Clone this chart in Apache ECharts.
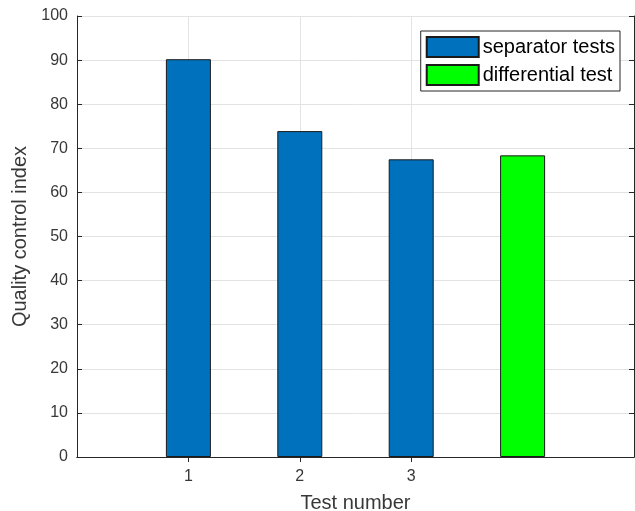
<!DOCTYPE html>
<html>
<head>
<meta charset="utf-8">
<script src="https://cdn.jsdelivr.net/npm/echarts@6/dist/echarts.min.js"></script>
<style>html,body{margin:0;padding:0;background:#fff}#c{width:635px;height:511px}</style>
</head>
<body>
<div id="c"></div>
<script>
// Data
const xPositions = ['0', '1', '2', '3', '4', '5'];
const xTickLabels = ['', '1', '2', '3', '', ''];
const separatorValues = [null, 90.2, 73.9, 67.5, null, null];
const differentialValues = [null, null, null, null, 68.4, null];
const yTicks = [0, 10, 20, 30, 40, 50, 60, 70, 80, 90, 100];
const seriesNames = ['separator tests', 'differential test'];

const FONT = '"Liberation Sans", Arial, sans-serif';
const TXT = '#383838';
const AX = '#262626';
const tickIdx = (i) => i >= 1 && i <= 3;

const chart = echarts.init(document.getElementById('c'));
chart.setOption({
  animation: false,
  backgroundColor: '#fff',
  grid: { left: 77, right: 1, top: 16, bottom: 54, outerBoundsMode: 'none', containLabel: false },
  legend: {
    right: 15, top: 31,
    orient: 'vertical',
    icon: 'rect',
    itemWidth: 52, itemHeight: 20, itemGap: 6,
    padding: [5, 5, 5, 5],
    borderColor: AX, borderWidth: 1, backgroundColor: '#fff',
    textStyle: { fontFamily: FONT, fontSize: 20, color: '#000', padding: [0, 0, 0, -1] },
    data: seriesNames
  },
  xAxis: [{
    type: 'category', data: xPositions, boundaryGap: false,
    name: 'Test number', nameLocation: 'middle', nameGap: 36,
    nameTextStyle: { fontFamily: FONT, fontSize: 20, color: TXT },
    axisLine: { lineStyle: { color: AX, width: 1 } },
    axisTick: { show: true, inside: true, length: 5, interval: tickIdx, lineStyle: { color: AX } },
    axisLabel: { interval: 0, margin: 12, fontFamily: FONT, fontSize: 16, color: TXT,
      formatter: (v, i) => xTickLabels[i] },
    splitLine: { show: true, interval: tickIdx, lineStyle: { color: '#e3e3e3', width: 1 } }
  }, {
    type: 'category', data: xPositions, boundaryGap: false, position: 'top',
    axisLine: { show: true, lineStyle: { color: AX, width: 1 } },
    axisTick: { show: true, inside: true, length: 5, interval: tickIdx, lineStyle: { color: AX } },
    axisLabel: { show: false }, splitLine: { show: false }
  }],
  yAxis: [{
    type: 'value', min: yTicks[0], max: yTicks[yTicks.length - 1], interval: 10,
    name: 'Quality control index', nameLocation: 'middle', nameGap: 42,
    nameTextStyle: { fontFamily: FONT, fontSize: 20, color: TXT },
    axisLine: { show: true, lineStyle: { color: AX, width: 1 } },
    axisTick: { show: true, inside: true, length: 5, lineStyle: { color: AX } },
    axisLabel: { margin: 9, fontFamily: FONT, fontSize: 16, color: TXT },
    splitLine: { show: true, lineStyle: { color: '#e3e3e3', width: 1 } }
  }, {
    type: 'value', min: yTicks[0], max: yTicks[yTicks.length - 1], interval: 10, position: 'right',
    axisLine: { show: true, lineStyle: { color: AX, width: 1 } },
    axisTick: { show: true, inside: true, length: 5, lineStyle: { color: AX } },
    axisLabel: { show: false }, splitLine: { show: false }
  }],
  series: [{
    name: seriesNames[0], type: 'bar', data: separatorValues,
    barWidth: 45, barGap: '-100%',
    itemStyle: { color: '#0072BD', borderColor: '#1a1a1a', borderWidth: 1 }
  }, {
    name: seriesNames[1], type: 'bar', data: differentialValues,
    barWidth: 45, barGap: '-100%',
    itemStyle: { color: '#00FF00', borderColor: '#1a1a1a', borderWidth: 1 }
  }]
});
</script>
</body>
</html>
